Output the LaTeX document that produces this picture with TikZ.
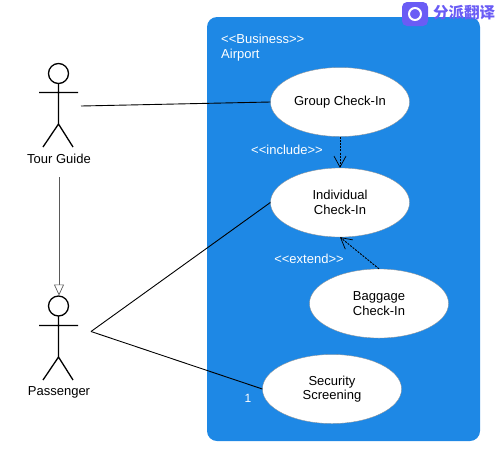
\documentclass[tikz,border=0pt]{standalone}
\usepackage{fontspec}
\setmainfont{Liberation Sans}
\newfontfamily\cjkfont{Noto Sans CJK SC}[FontFace={b}{n}{Noto Sans CJK SC Bold}]
\usetikzlibrary{arrows.meta,shapes.geometric}
\definecolor{panelblue}{HTML}{1E88E5}
\definecolor{markpurple}{HTML}{6A5CF5}
\tikzset{
  usecase/.style={ellipse,fill=white,draw=black!45,line width=0.3pt,minimum width=139pt,minimum height=69pt,inner sep=0pt,align=center,font=\fontsize{13}{14.5}\selectfont,execute at begin node={\vspace*{2pt}}},
  conn/.style={draw=black,line width=0.9pt},
  dep/.style={conn,dashed,dash pattern=on 2pt off 1.2pt,-{Straight Barb[length=11pt,width=12pt,line width=0.7pt]}},
  gener/.style={draw=black!65,line width=0.7pt,-{Triangle[open,length=11pt,width=10pt,fill=white]}},
  stick/.style={draw=black,line width=1.3pt},
  panel/.style={fill=panelblue,rounded corners=10pt},
  label/.style={inner sep=0pt,font=\fontsize{13}{15}\selectfont},
  onblue/.style={label,text=white},
}
\begin{document}
\begin{tikzpicture}[x=1pt,y=-1pt]
\useasboundingbox (0,0) rectangle (500,459);
\fill[panel] (207,17) rectangle (480,441);
\node[onblue,anchor=west] (biz) at (221,39) {{<}{<}Business{>}{>}};
\node[onblue,anchor=west] (air) at (221,55) {Airport};
\node[usecase] (group) at (340,102) {Group Check-In};
\node[usecase] (indiv) at (340,202.5) {Individual\\Check-In};
\node[usecase] (bag) at (379,303.5) {Baggage\\Check-In};
\node[usecase] (sec) at (332,389) {Security\\Screening};
\node[onblue] (inc) at (287,150) {{<}{<}include{>}{>}};
\node[onblue] (ext) at (309,259) {{<}{<}extend{>}{>}};
\node[onblue,font=\fontsize{12}{14}\selectfont] (one) at (248,398) {1};
% Tour Guide actor
\draw[stick] (58.5,73.5) circle (10);
\draw[stick] (58.5,83.5) -- (58.5,124) -- (43,147) (58.5,124) -- (73,147) (39,92.5) -- (78,92.5);
\node[label] (tg) at (59,158.5) {Tour Guide};
% Passenger actor
\draw[stick] (58.5,306) circle (10);
\draw[stick] (58.5,316) -- (58.5,357) -- (43,380) (58.5,357) -- (73,380) (39,325.5) -- (78,325.5);
\node[label] (pa) at (59,392) {Passenger};
% connector ends
\coordinate (tgr) at (81,106);
\coordinate (tgb) at (59,177);
\coordinate (pat) at (59,295.5);
\coordinate (par) at (91,331.5);
\draw[conn] (tgr) -- (group.west);
\draw[gener] (tgb) -- (pat);
\draw[conn] (par) -- (indiv.west);
\draw[conn] (par) -- (sec.west);
\draw[dep] (group.south) -- (indiv.north);
\draw[dep] (bag.north) -- (indiv.south);
% watermark
\fill[markpurple] (402,2) [rounded corners=5pt] rectangle (428,26);
\draw[white,line width=2pt] (415,14) circle (6);
\node[inner sep=0pt,text=markpurple,font=\cjkfont\bfseries\fontsize{15.5}{15.5}\selectfont] (mark) at (464,13) {分派翻译};
\end{tikzpicture}
\end{document}
